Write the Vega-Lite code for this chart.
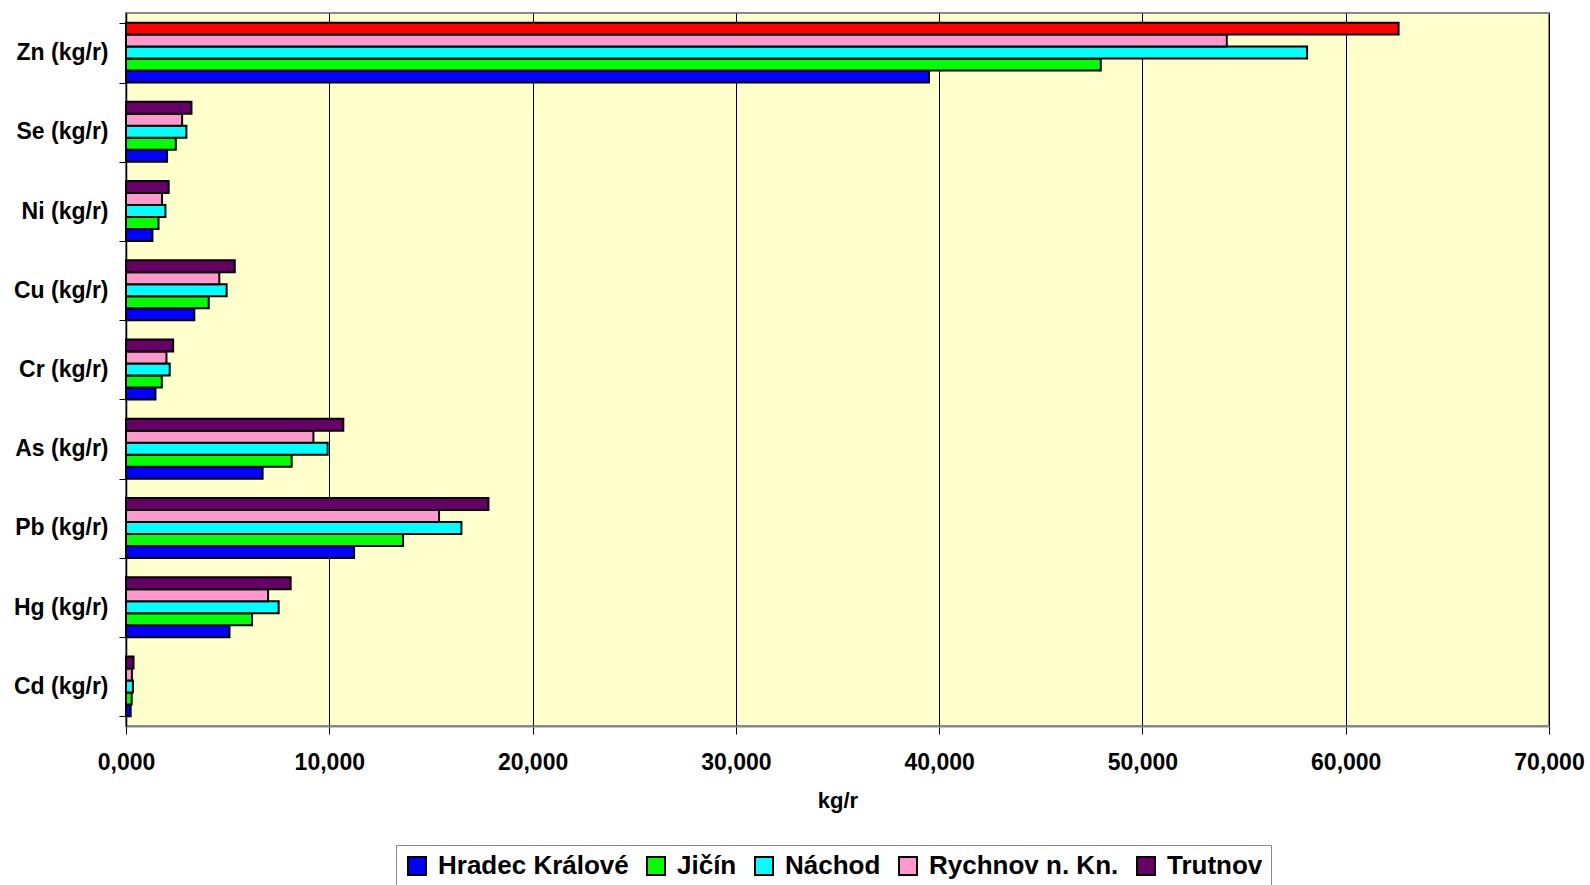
{
  "$schema": "https://vega.github.io/schema/vega-lite/v6.json",
  "width": 1423,
  "height": 713,
  "autosize": {"type": "none"},
  "padding": {"left": 126, "top": 13, "right": 41, "bottom": 159},
  "background": "white",
  "config": {
    "font": "Liberation Sans",
    "view": {"fill": "#FFFFCC", "stroke": "#888888", "strokeWidth": 2}
  },
  "data": {
    "values": [
      {"element": "Zn (kg/r)", "district": "Hradec Králové", "value": 39.5},
      {"element": "Zn (kg/r)", "district": "Jičín", "value": 47.95},
      {"element": "Zn (kg/r)", "district": "Náchod", "value": 58.1},
      {"element": "Zn (kg/r)", "district": "Rychnov n. Kn.", "value": 54.15},
      {"element": "Zn (kg/r)", "district": "Trutnov", "value": 62.6},
      {"element": "Se (kg/r)", "district": "Hradec Králové", "value": 2.02},
      {"element": "Se (kg/r)", "district": "Jičín", "value": 2.45},
      {"element": "Se (kg/r)", "district": "Náchod", "value": 2.97},
      {"element": "Se (kg/r)", "district": "Rychnov n. Kn.", "value": 2.76},
      {"element": "Se (kg/r)", "district": "Trutnov", "value": 3.22},
      {"element": "Ni (kg/r)", "district": "Hradec Králové", "value": 1.3},
      {"element": "Ni (kg/r)", "district": "Jičín", "value": 1.6},
      {"element": "Ni (kg/r)", "district": "Náchod", "value": 1.94},
      {"element": "Ni (kg/r)", "district": "Rychnov n. Kn.", "value": 1.77},
      {"element": "Ni (kg/r)", "district": "Trutnov", "value": 2.1},
      {"element": "Cu (kg/r)", "district": "Hradec Králové", "value": 3.36},
      {"element": "Cu (kg/r)", "district": "Jičín", "value": 4.07},
      {"element": "Cu (kg/r)", "district": "Náchod", "value": 4.95},
      {"element": "Cu (kg/r)", "district": "Rychnov n. Kn.", "value": 4.59},
      {"element": "Cu (kg/r)", "district": "Trutnov", "value": 5.35},
      {"element": "Cr (kg/r)", "district": "Hradec Králové", "value": 1.45},
      {"element": "Cr (kg/r)", "district": "Jičín", "value": 1.76},
      {"element": "Cr (kg/r)", "district": "Náchod", "value": 2.15},
      {"element": "Cr (kg/r)", "district": "Rychnov n. Kn.", "value": 1.99},
      {"element": "Cr (kg/r)", "district": "Trutnov", "value": 2.32},
      {"element": "As (kg/r)", "district": "Hradec Králové", "value": 6.72},
      {"element": "As (kg/r)", "district": "Jičín", "value": 8.15},
      {"element": "As (kg/r)", "district": "Náchod", "value": 9.92},
      {"element": "As (kg/r)", "district": "Rychnov n. Kn.", "value": 9.22},
      {"element": "As (kg/r)", "district": "Trutnov", "value": 10.69},
      {"element": "Pb (kg/r)", "district": "Hradec Králové", "value": 11.22},
      {"element": "Pb (kg/r)", "district": "Jičín", "value": 13.63},
      {"element": "Pb (kg/r)", "district": "Náchod", "value": 16.5},
      {"element": "Pb (kg/r)", "district": "Rychnov n. Kn.", "value": 15.4},
      {"element": "Pb (kg/r)", "district": "Trutnov", "value": 17.83},
      {"element": "Hg (kg/r)", "district": "Hradec Králové", "value": 5.09},
      {"element": "Hg (kg/r)", "district": "Jičín", "value": 6.2},
      {"element": "Hg (kg/r)", "district": "Náchod", "value": 7.51},
      {"element": "Hg (kg/r)", "district": "Rychnov n. Kn.", "value": 6.99},
      {"element": "Hg (kg/r)", "district": "Trutnov", "value": 8.1},
      {"element": "Cd (kg/r)", "district": "Hradec Králové", "value": 0.23},
      {"element": "Cd (kg/r)", "district": "Jičín", "value": 0.28},
      {"element": "Cd (kg/r)", "district": "Náchod", "value": 0.34},
      {"element": "Cd (kg/r)", "district": "Rychnov n. Kn.", "value": 0.29},
      {"element": "Cd (kg/r)", "district": "Trutnov", "value": 0.37}
    ]
  },
  "mark": {"type": "bar", "stroke": "black", "strokeWidth": 2},
  "encoding": {
    "y": {
      "field": "element",
      "type": "nominal",
      "sort": ["Zn (kg/r)", "Se (kg/r)", "Ni (kg/r)", "Cu (kg/r)", "Cr (kg/r)", "As (kg/r)", "Pb (kg/r)", "Hg (kg/r)", "Cd (kg/r)"],
      "scale": {"paddingInner": 0.243, "paddingOuter": 0.1215},
      "axis": {
        "title": null,
        "tickBand": "extent",
        "tickSize": 7,
        "tickColor": "black",
        "domainColor": "black",
        "domainWidth": 1.5,
        "labelFontSize": 23,
        "labelFontWeight": "bold",
        "labelColor": "black",
        "labelPadding": 11,
        "labelLimit": 300
      }
    },
    "yOffset": {
      "field": "district",
      "type": "nominal",
      "sort": "descending",
      "scale": {"paddingInner": 0, "paddingOuter": 0}
    },
    "x": {
      "field": "value",
      "type": "quantitative",
      "scale": {"domain": [0, 70], "nice": false},
      "axis": {
        "title": "kg/r",
        "values": [0, 10, 20, 30, 40, 50, 60, 70],
        "labelExpr": "replace(format(datum.value, '.3f'), '.', ',')",
        "labelFlush": false,
        "grid": true,
        "gridColor": "black",
        "gridWidth": 1,
        "gridOpacity": 1,
        "tickColor": "black",
        "tickSize": 8,
        "domainColor": "#888888",
        "domainWidth": 2,
        "labelFontSize": 23,
        "labelFontWeight": "bold",
        "labelColor": "black",
        "labelPadding": 17,
        "titleFontSize": 22,
        "titleFontWeight": "bold",
        "titleColor": "black",
        "titlePadding": 16
      }
    },
    "color": {
      "condition": {"test": "datum.element === 'Zn (kg/r)' && datum.district === 'Trutnov'", "value": "#FF0000"},
      "field": "district",
      "type": "nominal",
      "scale": {
        "domain": ["Hradec Králové", "Jičín", "Náchod", "Rychnov n. Kn.", "Trutnov"],
        "range": ["#0000FF", "#00FF00", "#00FFFF", "#FF99CC", "#660066"]
      },
      "legend": {
        "title": null,
        "orient": "none",
        "legendX": 270,
        "legendY": 832,
        "direction": "horizontal",
        "symbolType": "square",
        "symbolSize": 324,
        "symbolStrokeColor": "black",
        "symbolStrokeWidth": 2,
        "labelFontSize": 26,
        "labelFontWeight": "bold",
        "labelColor": "black",
        "labelOffset": 8,
        "labelLimit": 400,
        "columnPadding": 14,
        "strokeColor": "#888888",
        "padding": 8,
        "fillColor": "white"
      }
    }
  }
}
